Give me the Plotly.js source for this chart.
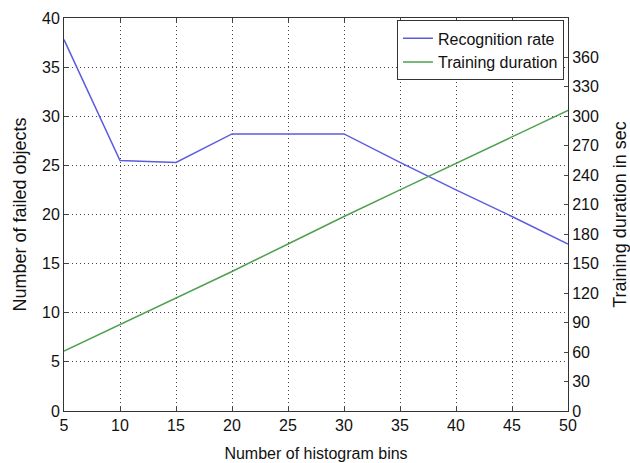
<!DOCTYPE html>
<html><head><meta charset="utf-8">
<script src="https://cdn.plot.ly/plotly-3.0.1.min.js"></script>
<style>html,body{margin:0;padding:0;background:#fff;}#plot{width:630px;height:463px;}</style>
</head><body><div id="plot"></div>
<script>
const bins = [5, 10, 15, 20, 25, 30, 35, 40, 45, 50];
const failedObjects = [37.8, 25.5, 25.3, 28.2, 28.2, 28.2, 25.3, 22.5, 19.8, 17.0];
const trainingSec = [61, 88, 115, 142, 170, 198, 225, 252, 279, 306];
const xTicks = [5, 10, 15, 20, 25, 30, 35, 40, 45, 50];
const leftTicks = [0, 5, 10, 15, 20, 25, 30, 35, 40];
const rightTicks = [0, 30, 60, 90, 120, 150, 180, 210, 240, 270, 300, 330, 360];

const font = 'Liberation Sans, Arial, sans-serif';
const data = [
  {x: bins, y: failedObjects, type: 'scatter', mode: 'lines', name: 'Recognition rate',
   line: {color: '#5c5cdf', width: 1.5}},
  {x: bins, y: trainingSec, type: 'scatter', mode: 'lines', name: 'Training duration', yaxis: 'y2',
   line: {color: '#4fa04f', width: 1.5}}
];
const grid = {showgrid: true, gridcolor: '#444', griddash: '1px,3px', gridwidth: 1};
const layout = {
  width: 630, height: 463,
  margin: {l: 64, r: 62, t: 18, b: 52},
  paper_bgcolor: '#fff', plot_bgcolor: '#fff',
  font: {family: font, size: 16, color: '#111'},
  showlegend: true,
  legend: {x: 0.992, y: 0.994, xanchor: 'right', yanchor: 'top', bgcolor: '#fff',
           bordercolor: '#333', borderwidth: 1, font: {size: 16}, tracegroupgap: 0},
  xaxis: Object.assign({range: [5, 50], tickvals: xTicks, ticktext: xTicks.map(String), ticks: 'inside', ticklen: 4,
          showline: true, linecolor: '#333', linewidth: 1, mirror: 'ticks', zeroline: false,
          title: {text: 'Number of histogram bins', font: {size: 16}, standoff: 14}}, grid),
  yaxis: Object.assign({range: [0, 40], tickvals: leftTicks, ticktext: leftTicks.map(String), ticks: 'inside', ticklen: 4,
          showline: true, linecolor: '#333', linewidth: 1, zeroline: false,
          title: {text: 'Number of failed objects', font: {size: 18}, standoff: 10}}, grid),
  yaxis2: {range: [0, 400], overlaying: 'y', side: 'right', tickvals: rightTicks, ticktext: rightTicks.map(String),
           ticks: 'inside', ticklen: 4, showline: true, linecolor: '#333', linewidth: 1,
           showgrid: false, zeroline: false,
           title: {text: 'Training duration in sec', font: {size: 18}, standoff: 16}}
};
Plotly.newPlot('plot', data, layout, {displayModeBar: false, staticPlot: true});
</script></body></html>
